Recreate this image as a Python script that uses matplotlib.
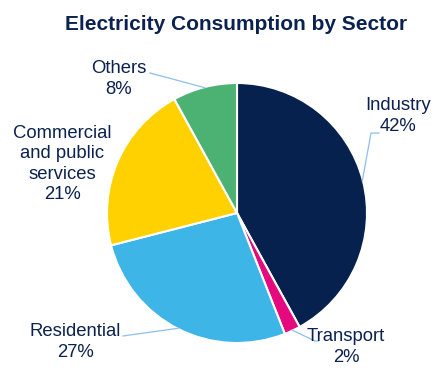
import numpy as np
import matplotlib
matplotlib.use("Agg")
import matplotlib.pyplot as plt

plt.rcParams['font.family'] = ['Liberation Sans', 'DejaVu Sans']

sectors = ["Industry", "Transport", "Residential", "Commercial\nand public\nservices", "Others"]
shares = [42, 2, 27, 21, 8]
colors = ["#06214D", "#E5087E", "#3DB5E6", "#FFD100", "#4CB273"]
title = "Electricity Consumption by Sector"

TEXT = "#0B2250"
LEAD = "#8DBFEF"

W, H = 443, 382
fig = plt.figure(figsize=(W / 100, H / 100), dpi=100)
cx, cy, r = 237, 213, 130
ax = fig.add_axes([(cx - r) / W, (H - cy - r) / H, 2 * r / W, 2 * r / H])

wedges, _ = ax.pie(shares, colors=colors, startangle=90, counterclock=False,
                   radius=1, wedgeprops=dict(edgecolor="white", linewidth=1.5))
ax.set_xlim(-1, 1)
ax.set_ylim(-1, 1)
ax.set_aspect("equal")
ax.axis("off")

# label block centres (data units, relative to pie) and leader paths
label_pos = [(1.238, 0.746), (0.838, -1.031), (-1.246, -0.992), (-1.346, 0.377), (-0.908, 1.031)]
leaders = [
    [(1.031, 0.615), (1.092, 0.615)],
    [(0.60, -0.985), (0.623, -0.985)],
    [(-0.877, -0.946)],
    None,
    [(-0.669, 1.077)],
]

for w, name, val, pos, lead in zip(wedges, sectors, shares, label_pos, leaders):
    ang = np.deg2rad((w.theta1 + w.theta2) / 2)
    if lead is not None:
        pts = [(np.cos(ang) * 0.995, np.sin(ang) * 0.995)] + lead
        xs, ys = zip(*pts)
        ax.plot(xs, ys, color=LEAD, lw=0.9, clip_on=False, solid_joinstyle="miter")
    ax.text(pos[0], pos[1], f"{name}\n{val}%", ha="center", va="center",
            fontsize=13.3, color=TEXT, linespacing=1.25)

fig.text(236 / W, 1 - 24 / H, title, ha="center", va="center",
         fontsize=15, fontweight="bold", color=TEXT)

fig.savefig("out.png", dpi=100)
